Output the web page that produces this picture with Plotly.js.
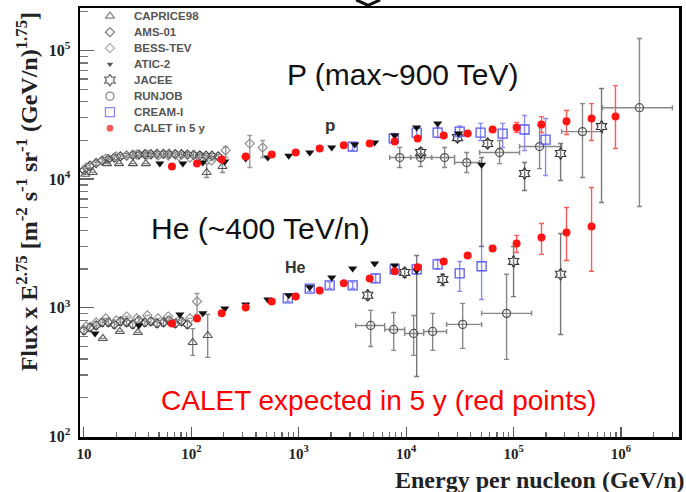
<!DOCTYPE html>
<html><head><meta charset="utf-8">
<script src="https://cdn.plot.ly/plotly-3.0.1.min.js"></script>
<style>html,body{margin:0;padding:0;background:#fff}#chart{width:686px;height:492px}</style>
</head><body><div id="chart"></div>
<script>
// ---------------- DATA (Energy GeV/n, Flux x E^2.75) ----------------
// CALET expected in 5 y
const calP_E  = [66, 113, 192, 321, 561, 938, 1567, 2626, 4575, 7820, 12800, 22350, 37350, 63800, 106700, 182000, 311000, 532000, 889000];
const calP_F  = [12530, 13200, 14200, 15000, 15500, 16100, 17300, 18300, 18900, 19600, 20700, 21800, 22600, 24300, 25200, 26600, 28100, 29600, 30600];
const calP_hi = [null,null,null,null,null,null,null,null,null,null,null,null,null,null, 27600, 30600, 34100, 38600, 53300];
const calP_lo = [null,null,null,null,null,null,null,null,null,null,null,null,null,null, 23000, 23000, 22200, 19950, 17300];
const calHe_E  = [66, 113, 192, 321, 561, 938, 1567, 2626, 4575, 7820, 12800, 22350, 37350, 63800, 106700, 182000, 311000, 532000];
const calHe_F  = [755, 826, 904, 1005, 1120, 1220, 1360, 1550, 1690, 1920, 2060, 2290, 2550, 2890, 3160, 3520, 3850, 4280];
const calHe_hi = [null,null,null,null,null,null,null,null,null,null,null,null,null,null, 3650, 4520, 6010, 8610];
const calHe_lo = [null,null,null,null,null,null,null,null,null,null,null,null,null,null, 2690, 2600, 2330, 1920];
// ATIC-2
const aticP_E  = [50.9, 83.4, 128, 205, 321, 515, 807, 1266, 2028, 3319, 5090, 7820, 12530, 19650, 30800, 50400];
const aticP_F  = [13200, 13200, 13450, 13700, 14450, 14700, 15200, 16100, 17600, 18600, 19250, 21800, 25200, 27100, 22600, 12900];
const aticP_hi = [null,null,null,null,null,null,null,null,null,null,null,null,null,null,null, 14700];
const aticP_lo = [null,null,null,null,null,null,null,null,null,null,null,null,null,null,null, 3000];
const aticHe_E  = [12.7, 32.5, 78.2, 128, 205, 321, 515, 807, 1266, 2028, 3178, 5090, 7820, 12530];
const aticHe_F  = [631, 728, 887, 904, 988, 1060, 1160, 1250, 1440, 1720, 2020, 2210, 2130, 1950];
const aticHe_hi = [null,null,null,null,null,null,null,null,null,null,null,null,null, 2550];
const aticHe_lo = [null,null,null,null,null,null,null,null,null,null,null,null,null, 292];
// CREAM-I
const creamP_E  = [3178, 7656, 12530, 19650, 31500, 49300, 79100, 126600, 198500];
const creamP_F  = [17900, 20700, 23000, 23000, 23400, 23000, 22600, 24300, 20300];
const creamP_hi = [19250, 22600, 25200, 25200, 25900, 27100, 27100, 31200, 29600];
const creamP_lo = [16700, 19250, 21000, 21000, 21000, 19950, 17600, 16700, 10670];
const creamHe_E  = [790, 1266, 1940, 3178, 5200, 7820, 12530, 19650, 31500, 50400];
const creamHe_F  = [1180, 1410, 1490, 1490, 1690, 1990, 1990, 2170, 1850, 2100];
const creamHe_hi = [1250, 1490, 1580, 1580, 1820, 2170, 2170, 2370, 2290, 2990];
const creamHe_lo = [1120, 1340, 1410, 1410, 1580, 1820, 1820, 1990, 1340, 1160];
// RUNJOB
const runP_E   = [8710, 13650, 22800, 36600, 74100, 174600, 438000, 1486000];
const runP_F   = [14700, 14700, 14700, 13450, 16100, 17900, 23400, 35900];
const runP_Elo = [7030, 11010, 17260, 28250, 48300, 113700, 280000, 673000];
const runP_Ehi = [11010, 17260, 28250, 48300, 113700, 280000, 673000, 3010000];
const runP_hi  = [17600, 17300, 17600, 16100, 19950, 26100, 38600, 124000];
const runP_lo  = [12310, 12530, 12310, 11250, 13200, 12060, 10290, 6120];
const runHe_E   = [4674, 7656, 11750, 17650, 33600, 86100];
const runHe_F   = [728, 678, 631, 654, 742, 904];
const runHe_Elo = [3390, 6310, 9680, 14550, 23800, 50400];
const runHe_Ehi = [6310, 9680, 14550, 23800, 50400, 147000];
const runHe_hi  = [953, 919, 871, 904, 1080, 1820];
const runHe_lo  = [500, 466, 426, 466, 483, 397];
// JACEE
const jacP_E  = [13650, 30100, 57300, 126600, 274000, 659000];
const jacP_F  = [16100, 21000, 18900, 11060, 15800, 25600];
const jacP_hi = [17300, 22600, 20300, 13450, 18900, 50600];
const jacP_lo = [14700, 19600, 17600, 8150, 9750, 6580];
const jacHe_E  = [4385, 9690, 21900, 100000, 274000];
const jacHe_F  = [1250, 1880, 1660, 2290, 1820];
const jacHe_hi = [1340, 2020, 1820, 2990, 3780];
const jacHe_lo = [1160, 1720, 1490, 1220, 620];
// CAPRICE98
const capP_E  = [10.3, 12.1, 16.4, 21.2, 28.6, 37.8, 139, 195];
const capP_F  = [10900, 11250, 13200, 13200, 13200, 13200, 11250, 12530];
const capP_hi = [null,null,null,null,null,null, 13200, 14450];
const capP_lo = [null,null,null,null,null,null, 10290, 11250];
const capHe_E  = [15, 21.6, 31.8, 103, 142];
const capHe_F  = [577, 654, 642, 537, 609];
const capHe_hi = [null,null,null, 688, 887];
const capHe_lo = [null,null,null, 426, 411];
// AMS-01
const amsP_E = [10, 11.4, 13, 14.8, 16.9, 19.2, 21.9, 25, 28.5, 32.5, 37, 42, 48, 55, 62, 71, 81, 92, 105, 120, 137, 156, 178];
const amsP_F = [11700, 12700, 13300, 13900, 14300, 14700, 15000, 15200, 15400, 15500, 15600, 15600, 15700, 15700, 15700, 15600, 15600, 15500, 15400, 15300, 15200, 15200, 15000];
const amsHe_E = [10, 11.4, 13, 14.8, 16.9, 19.2, 21.9, 25, 28.5, 32.5, 37, 42, 48, 55, 62, 71, 81, 92];
const amsHe_F = [666, 703, 728, 769, 769, 742, 783, 769, 742, 797, 769, 783, 755, 769, 797, 755, 783, 742];
// BESS-TeV
const bessP_E  = [10.5, 13, 16, 20, 25, 31, 39, 49, 61, 77, 97, 122, 154, 209, 350, 462];
const bessP_F  = [12310, 13450, 14450, 15000, 15200, 15500, 15500, 15200, 15200, 15000, 14700, 14450, 13950, 16700, 18900, 17600];
const bessP_hi = [null,null,null,null,null,null,null,null,null,null,null,null,null, 17900, 21800, 19950];
const bessP_lo = [null,null,null,null,null,null,null,null,null,null,null,null,null, 14700, 12310, 14700];
const bessHe_E  = [10.5, 13, 16, 20, 25, 31, 39, 49, 61, 77, 97, 113];
const bessHe_F  = [716, 769, 826, 797, 855, 826, 871, 826, 855, 797, 826, 1120];
const bessHe_hi = [null,null,null,null,null,null,null,null,null,null,null, 1290];
const bessHe_lo = [null,null,null,null,null,null,null,null,null,null,null, 887];

const legendNames = ['CAPRICE98', 'AMS-01', 'BESS-TEV', 'ATIC-2', 'JACEE', 'RUNJOB', 'CREAM-I', 'CALET in 5 y'];
const xTickVals = [10, 100, 1000, 10000, 100000, 1000000];
const xTickText = ['10', '10<sup>2</sup>', '10<sup>3</sup>', '10<sup>4</sup>', '10<sup>5</sup>', '10<sup>6</sup>'];
const yTickVals = [100, 1000, 10000, 100000];
const yTickText = ['10<sup>2</sup>', '10<sup>3</sup>', '10<sup>4</sup>', '10<sup>5</sup>'];

// ---------------- STYLES ----------------
const ST = {
  'CAPRICE98':   {m:{symbol:'triangle-up-open', size:8, color:'#555', line:{width:1.1}}, e:'#888'},
  'AMS-01':      {m:{symbol:'diamond-open', size:7, color:'#444', line:{width:1.2}}, e:'#888'},
  'BESS-TEV':    {m:{symbol:'diamond-open', size:7, color:'#8a8a8a', line:{width:1.1}}, e:'#999'},
  'ATIC-2':      {m:{symbol:'triangle-down', size:8, color:'#111'}, e:'#777'},
  'JACEE':       {m:{symbol:'hexagram-open', size:9, color:'#333', line:{width:1.1}}, e:'#777'},
  'RUNJOB':      {m:{symbol:'circle-open', size:8, color:'#555', line:{width:1.3}}, e:'#888'},
  'CREAM-I':     {m:{symbol:'square-open', size:9, color:'#5a5af2', line:{width:1.3}}, e:'#8c8cf2'},
  'CALET in 5 y':{m:{symbol:'circle', size:8, color:'#ff1414'}, e:'#ff5a5a'}
};

function mkErr(F, hi, lo, col, pct) {
  if (pct) return {type:'percent', value:pct, color:col, thickness:1.2, width:2};
  return {type:'data', symmetric:false,
    array: F.map((f,i)=> hi && hi[i]!=null ? hi[i]-f : 0),
    arrayminus: F.map((f,i)=> lo && lo[i]!=null ? f-lo[i] : 0),
    color:col, thickness:1.4, width:2.5};
}
function tr(name, E, F, hi, lo, extra) {
  const s = ST[name];
  const t = {type:'scatter', mode:'markers', x:E, y:F, name:name, showlegend:false,
    marker:s.m, error_y: mkErr(F, hi, lo, s.e, extra && extra.pct), hoverinfo:'x+y'};
  if (extra && extra.Elo) {
    t.error_x = {type:'data', symmetric:false,
      array: E.map((e,i)=> extra.Ehi[i]-e), arrayminus: E.map((e,i)=> e-extra.Elo[i]),
      color:s.e, thickness:1.4, width:2.5};
  }
  return t;
}

const data = [
  tr('AMS-01', amsP_E, amsP_F, null, null, {pct:4}),
  tr('AMS-01', amsHe_E, amsHe_F, null, null, {pct:7}),
  tr('BESS-TEV', bessP_E, bessP_F, bessP_hi, bessP_lo),
  tr('BESS-TEV', bessHe_E, bessHe_F, bessHe_hi, bessHe_lo),
  tr('CAPRICE98', capP_E, capP_F, capP_hi, capP_lo),
  tr('CAPRICE98', capHe_E, capHe_F, capHe_hi, capHe_lo),
  tr('RUNJOB', runP_E, runP_F, runP_hi, runP_lo, {Elo:runP_Elo, Ehi:runP_Ehi}),
  tr('RUNJOB', runHe_E, runHe_F, runHe_hi, runHe_lo, {Elo:runHe_Elo, Ehi:runHe_Ehi}),
  tr('JACEE', jacP_E, jacP_F, jacP_hi, jacP_lo),
  tr('JACEE', jacHe_E, jacHe_F, jacHe_hi, jacHe_lo),
  tr('CREAM-I', creamP_E, creamP_F, creamP_hi, creamP_lo),
  tr('CREAM-I', creamHe_E, creamHe_F, creamHe_hi, creamHe_lo),
  tr('ATIC-2', aticP_E, aticP_F, aticP_hi, aticP_lo),
  tr('ATIC-2', aticHe_E, aticHe_F, aticHe_hi, aticHe_lo),
  tr('CALET in 5 y', calP_E, calP_F, calP_hi, calP_lo),
  tr('CALET in 5 y', calHe_E, calHe_F, calHe_hi, calHe_lo)
];

// custom compact legend (symbols on an overlay axis, labels as annotations)
const LEG_X = 0.05, LEG_TX = 0.0868, LEG_Y0 = 0.981, LEG_DY = 0.0373;
data.push({type:'scatter', mode:'markers', xaxis:'x2', yaxis:'y2', showlegend:false, hoverinfo:'skip',
  x: legendNames.map(()=>LEG_X),
  y: legendNames.map((n,i)=>LEG_Y0 - i*LEG_DY),
  marker:{symbol: legendNames.map(n=>ST[n].m.symbol), size: legendNames.map(n=>ST[n].m.size),
          color: legendNames.map(n=>ST[n].m.color), line:{width:1.3}}});

const sans = 'Liberation Sans, Arial, sans-serif';
const serif = 'Liberation Serif, DejaVu Serif, serif';
const serifB = {family:serif, size:16, color:'#222', weight:700};
const annotations = legendNames.map((n,i)=>({xref:'paper', yref:'paper', x:LEG_TX, y:LEG_Y0 - i*LEG_DY,
  xanchor:'left', yanchor:'middle', showarrow:false, text:n,
  font:{family:sans, size:11.5, color:'#555', weight:700}}));
annotations.push(
  {xref:'paper', yref:'paper', x:0.539, y:0.844, xanchor:'center', yanchor:'middle', text:'P (max~900 TeV)', showarrow:false,
   font:{family:sans, size:30, color:'#111'}},
  {xref:'paper', yref:'paper', x:0.302, y:0.487, xanchor:'center', yanchor:'middle', text:'He (~400 TeV/n)', showarrow:false,
   font:{family:sans, size:30, color:'#111'}},
  {xref:'paper', yref:'paper', x:0.4975, y:0.084, xanchor:'center', yanchor:'middle', text:'CALET expected in 5 y (red points)', showarrow:false,
   font:{family:sans, size:28, color:'#ff0000'}},
  {xref:'paper', yref:'paper', x:0.417, y:0.727, xanchor:'center', yanchor:'middle', text:'p', showarrow:false,
   font:{family:sans, size:17, color:'#333', weight:700}},
  {xref:'paper', yref:'paper', x:0.3606, y:0.394, xanchor:'center', yanchor:'middle', text:'He', showarrow:false,
   font:{family:sans, size:16, color:'#333', weight:700}},
  {xref:'paper', yref:'paper', x:1.014, y:-0.1, xanchor:'right', yanchor:'middle', showarrow:false,
   text:'Energy per nucleon (GeV/n)', font:{family:serif, size:24, color:'#222', weight:700}},
  {xref:'paper', yref:'paper', x:-0.088, y:0.571, xanchor:'center', yanchor:'middle', textangle:-90, showarrow:false,
   text:'Flux x E<sup>2.75</sup> [m<sup>-2</sup> s<sup>-1</sup> sr<sup>-1</sup> (GeV/n)<sup>1.75</sup>]',
   font:{family:serif, size:24, color:'#222', weight:700}}
);

const layout = {
  width:686, height:492, margin:{l:80, r:7, t:8, b:55},
  paper_bgcolor:'#fff', plot_bgcolor:'#fff', showlegend:false,
  xaxis:{type:'log', range:[Math.log10(9.2), 6.54], tickmode:'array', tickvals:xTickVals, ticktext:xTickText,
    ticks:'inside', ticklen:10, tickwidth:1.2, tickcolor:'#555', showgrid:false, zeroline:false,
    showline:true, linewidth:2.5, linecolor:'#000', mirror:true, ticklabelstandoff:1,
    minor:{ticks:'inside', ticklen:5, tickcolor:'#666', dtick:'D1', showgrid:false},
    tickfont:{family:serif, size:15, color:'#222', weight:700}},
  yaxis:{type:'log', range:[1.995, 5.33], tickmode:'array', tickvals:yTickVals, ticktext:yTickText,
    ticks:'inside', ticklen:14, tickwidth:1.2, tickcolor:'#666', showgrid:false, zeroline:false,
    showline:true, linewidth:2.5, linecolor:'#000', mirror:true, ticklabelstandoff:4,
    minor:{ticks:'inside', ticklen:8, tickcolor:'#777', dtick:'D1', showgrid:false},
    tickfont:serifB},
  xaxis2:{overlaying:'x', anchor:'y2', range:[0,1], visible:false, fixedrange:true},
  yaxis2:{overlaying:'y', anchor:'x2', range:[0,1], visible:false, fixedrange:true},
  annotations: annotations,
  shapes:[{type:'path', xref:'paper', yref:'paper', path:'M 0.461 1.019 L 0.481 1.006 L 0.501 1.019',
    line:{color:'#111', width:3}}]
};
Plotly.newPlot('chart', data, layout, {staticPlot:true, displayModeBar:false});
</script></body></html>
